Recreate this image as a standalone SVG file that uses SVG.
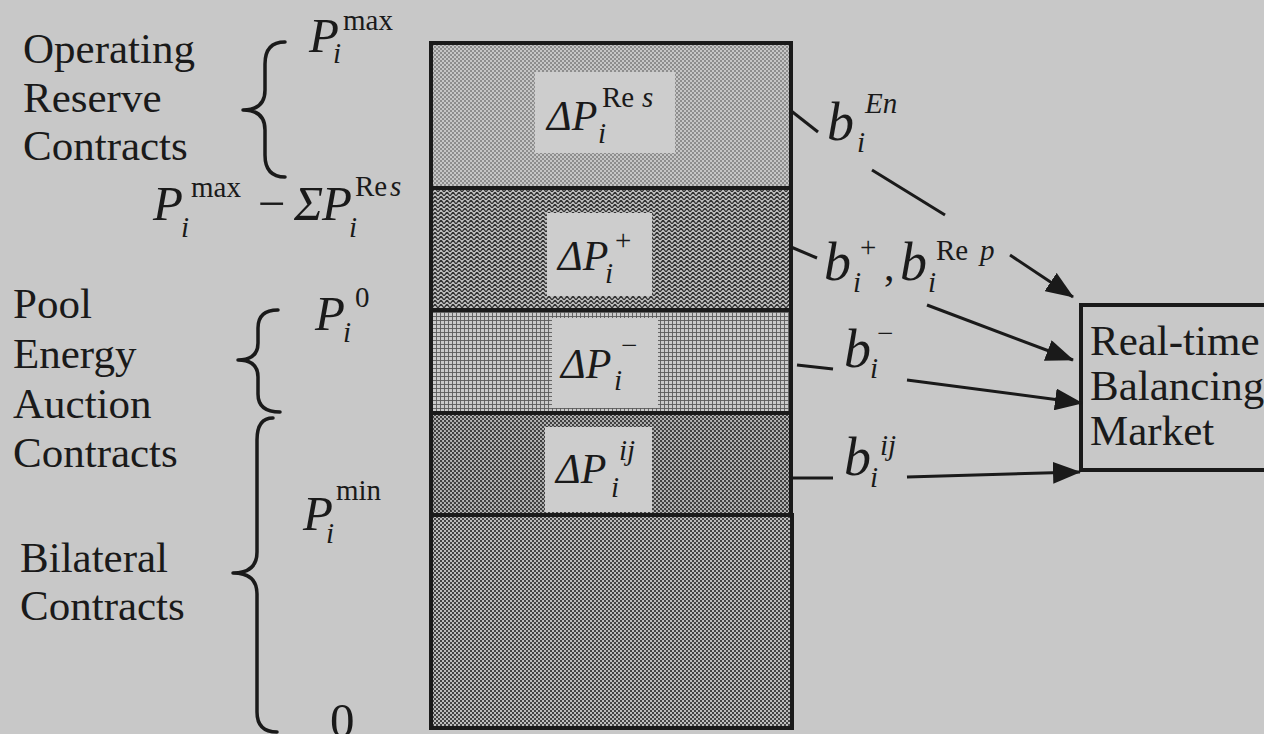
<svg xmlns="http://www.w3.org/2000/svg" width="1264" height="734" viewBox="0 0 1264 734">
<defs>
<style>
.t{font-family:"Liberation Serif","Times New Roman",serif;fill:#1a1a1a;}
.lbl{font-size:43px;}
.it{font-style:italic;}
.big{font-size:49px;}
.mid{font-size:42px;}
.bb{font-size:54px;}
.sup{font-size:29px;}
.brace{fill:none;stroke:#1a1a1a;stroke-width:3.5;stroke-linecap:round;stroke-linejoin:round;}
.seg{stroke:#1a1a1a;stroke-width:4;}
.lab{fill:#cdcdcd;stroke:none;}
.con{fill:none;stroke:#1a1a1a;stroke-width:3;}
</style>
<pattern id="pDots" width="4" height="4" patternUnits="userSpaceOnUse">
<rect width="4" height="4" fill="#c6c6c6"/>
<circle cx="1" cy="1" r="0.8" fill="#444"/>
<circle cx="3" cy="3" r="0.8" fill="#444"/>
</pattern>
<pattern id="pWave" width="6" height="4" patternUnits="userSpaceOnUse">
<rect width="6" height="4" fill="#c0c0c0"/>
<path d="M0,4 L3,0 L6,4" fill="none" stroke="#333" stroke-width="1.3"/>
</pattern>
<pattern id="pGrid" width="4" height="4" patternUnits="userSpaceOnUse">
<rect width="4" height="4" fill="#cacaca"/>
<path d="M0.5,0 V4 M0,0.5 H4" fill="none" stroke="#5a5a5a" stroke-width="0.9"/>
</pattern>
<pattern id="pCheck" width="4" height="4" patternUnits="userSpaceOnUse">
<rect width="4" height="4" fill="#bdbdbd"/>
<rect x="0" y="0" width="2" height="2" fill="#444"/>
<rect x="2" y="2" width="2" height="2" fill="#444"/>
</pattern>
<pattern id="pCheck2" width="4" height="4" patternUnits="userSpaceOnUse">
<rect width="4" height="4" fill="#b8b8b8"/>
<circle cx="1" cy="1" r="1.2" fill="#3c3c3c"/>
<circle cx="3" cy="3" r="1.2" fill="#3c3c3c"/>
</pattern>
<marker id="arr" markerUnits="userSpaceOnUse" markerWidth="28" markerHeight="22" refX="27" refY="11" orient="auto">
<path d="M0,0 L28,11 L0,22 z" fill="#1a1a1a"/>
</marker>
</defs>
<rect width="1264" height="734" fill="#c8c8c8"/>

<!-- left labels -->
<g id="label-operating">
<text class="t lbl" x="23" y="63">Operating</text>
<text class="t lbl" x="23" y="112">Reserve</text>
<text class="t lbl" x="23" y="160">Contracts</text>
</g>
<g id="label-pool">
<text class="t lbl" x="13" y="318">Pool</text>
<text class="t lbl" x="13" y="368">Energy</text>
<text class="t lbl" x="13" y="418">Auction</text>
<text class="t lbl" x="13" y="467">Contracts</text>
</g>
<g id="label-bilateral">
<text class="t lbl" x="20" y="572">Bilateral</text>
<text class="t lbl" x="20" y="620">Contracts</text>
</g>

<!-- braces -->
<g id="braces">
<path class="brace" d="M285,42 Q265,42 265,64 L265,90 Q265,110 243,110 Q265,110 265,130 L265,155 Q265,177 285,177"/>
<path class="brace" d="M278,310 Q258,310 258,328 L258,343 Q258,360 238,360 Q258,360 258,377 L258,394 Q258,412 280,412"/>
<path class="brace" d="M273,418 Q257,418 257,440 L257,552 Q257,573 233,573 Q257,573 257,594 L257,712 Q257,732 277,732"/>
</g>

<!-- level labels -->
<g id="level-pmax">
<text class="t big it" x="309" y="52">P</text>
<text class="t sup" x="343" y="30">max</text>
<text class="t sup it" x="333" y="63">i</text>
</g>
<g id="level-pmax-res">
<text class="t big it" x="153" y="220">P</text>
<text class="t sup" x="191" y="197">max</text>
<text class="t sup it" x="181" y="237">i</text>
<text class="t big" x="258" y="220">−</text>
<text class="t big it" x="294" y="220">Σ</text>
<text class="t big it" x="322" y="220">P</text>
<text class="t sup" x="355" y="196">Re</text>
<text class="t sup it" x="390" y="196">s</text>
<text class="t sup it" x="349" y="237">i</text>
</g>
<g id="level-p0">
<text class="t big it" x="315" y="330">P</text>
<text class="t sup" x="355" y="307">0</text>
<text class="t sup it" x="343" y="342">i</text>
</g>
<g id="level-pmin">
<text class="t big it" x="303" y="530">P</text>
<text class="t sup" x="336" y="500">min</text>
<text class="t sup it" x="326" y="543">i</text>
</g>
<g id="level-zero">
<text class="t big" x="330" y="737">0</text>
</g>

<!-- stacked bar segments -->
<g id="seg-res">
<rect class="seg" x="431" y="43" width="360" height="145" fill="url(#pDots)"/>
<rect class="lab" x="535" y="72" width="140" height="81"/>
<text class="t mid it" x="547" y="130">ΔP</text>
<text class="t sup" x="602" y="107">Re</text>
<text class="t sup it" x="642" y="107">s</text>
<text class="t sup it" x="598" y="143">i</text>
</g>
<g id="seg-plus">
<rect class="seg" x="431" y="188" width="360" height="122" fill="url(#pWave)"/>
<rect class="lab" x="547" y="213" width="105" height="83"/>
<text class="t mid it" x="558" y="270">ΔP</text>
<text class="t sup" x="615" y="250">+</text>
<text class="t sup it" x="605" y="283">i</text>
</g>
<g id="seg-minus">
<rect class="seg" x="431" y="310" width="360" height="103" fill="url(#pGrid)"/>
<rect class="lab" x="552" y="318" width="106" height="90"/>
<text class="t mid it" x="561" y="378">ΔP</text>
<text class="t sup" x="621" y="355">−</text>
<text class="t sup it" x="614" y="390">i</text>
</g>
<g id="seg-ij">
<rect class="seg" x="431" y="413" width="360" height="102" fill="url(#pCheck2)"/>
<rect class="lab" x="545" y="427" width="107" height="85"/>
<text class="t mid it" x="556" y="483">ΔP</text>
<text class="t sup it" x="619" y="460">ij</text>
<text class="t sup it" x="611" y="497">i</text>
</g>
<g id="seg-base">
<rect class="seg" x="431" y="515" width="361" height="213" fill="url(#pCheck)"/>
</g>

<!-- bid labels -->
<g id="bid-en">
<text class="t bb it" x="827" y="140">b</text>
<text class="t sup it" x="865" y="113">En</text>
<text class="t sup it" x="857" y="152">i</text>
</g>
<g id="bid-plus-rep">
<text class="t bb it" x="824" y="280">b</text>
<text class="t sup" x="860" y="257">+</text>
<text class="t sup it" x="853" y="292">i</text>
<text class="t mid" x="884" y="280">,</text>
<text class="t bb it" x="900" y="280">b</text>
<text class="t sup" x="936" y="260">Re</text>
<text class="t sup it" x="980" y="260">p</text>
<text class="t sup it" x="928" y="292">i</text>
</g>
<g id="bid-minus">
<text class="t bb it" x="844" y="367">b</text>
<text class="t sup" x="877" y="343">−</text>
<text class="t sup it" x="870" y="378">i</text>
</g>
<g id="bid-ij">
<text class="t bb it" x="844" y="475">b</text>
<text class="t sup it" x="880" y="455">ij</text>
<text class="t sup it" x="870" y="487">i</text>
</g>

<!-- market node -->
<g id="market">
<rect x="1081" y="305" width="200" height="165" fill="none" stroke="#1a1a1a" stroke-width="4"/>
<text class="t lbl" x="1090" y="355">Real-time</text>
<text class="t lbl" x="1090" y="400">Balancing</text>
<text class="t lbl" x="1090" y="445">Market</text>
</g>

<!-- connectors -->
<g id="connectors">
<line class="con" x1="790" y1="110" x2="818" y2="132"/>
<line class="con" x1="791" y1="247" x2="817" y2="258"/>
<line class="con" x1="797" y1="365" x2="833" y2="369"/>
<line class="con" x1="793" y1="478" x2="833" y2="478"/>
<line class="con" x1="872" y1="170" x2="945" y2="215"/>
<line class="con" x1="1010" y1="255" x2="1073" y2="297" marker-end="url(#arr)"/>
<line class="con" x1="927" y1="305" x2="1073" y2="360" marker-end="url(#arr)"/>
<line class="con" x1="907" y1="380" x2="1082" y2="403" marker-end="url(#arr)"/>
<line class="con" x1="907" y1="477" x2="1080" y2="472" marker-end="url(#arr)"/>
</g>
</svg>
